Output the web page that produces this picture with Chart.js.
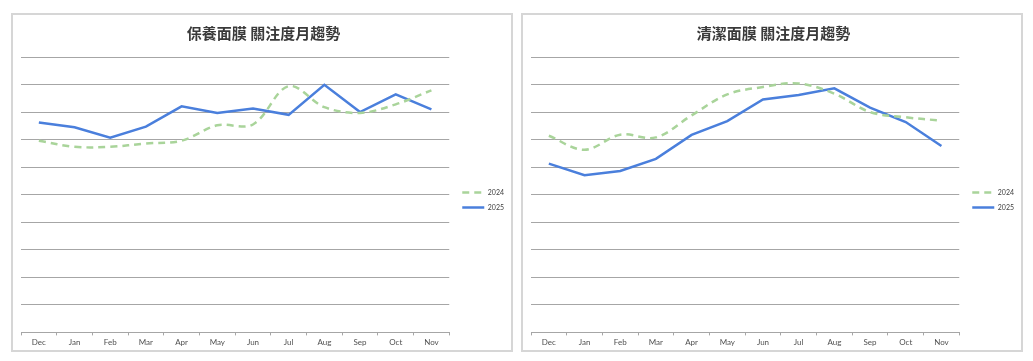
<!DOCTYPE html>
<html>
<head>
<meta charset="utf-8">
<script src="https://cdn.jsdelivr.net/npm/chart.js@4/dist/chart.umd.min.js"></script>
<style>
  html, body { margin: 0; padding: 0; background: #ffffff; width: 1033px; height: 361px; overflow: hidden; }
  .panel { position: absolute; top: 13px; width: 502px; height: 339px; box-sizing: border-box; border: 2px solid #d6d6d6; background: #fff; }
  #p1 { left: 11px; }
  #p2 { left: 521px; }
  canvas { display: block; }
</style>
</head>
<body>
<div class="panel" id="p1"><canvas id="c1" width="498" height="335"></canvas></div>
<div class="panel" id="p2"><canvas id="c2" width="498" height="335"></canvas></div>
<script>
const months = ['Dec','Jan','Feb','Mar','Apr','May','Jun','Jul','Aug','Sep','Oct','Nov'];
const seriesNames = ['2024', '2025'];

const title1 = '保養面膜 關注度月趨勢';
const care2024 = [69.6, 67.4, 67.4, 68.6, 69.6, 75.2, 75.5, 89.4, 81.8, 79.7, 82.8, 87.9];
const care2025 = [76.2, 74.5, 70.7, 74.7, 82.1, 79.7, 81.3, 79.0, 89.9, 80.0, 86.4, 81.0];

const title2 = '清潔面膜 關注度月趨勢';
const clean2024 = [71.4, 66.3, 71.8, 70.8, 78.8, 86.4, 89.1, 90.4, 86.7, 80.0, 78.1, 76.9];
const clean2025 = [61.3, 57.1, 58.6, 63.0, 71.7, 76.7, 84.6, 86.2, 88.6, 81.6, 76.4, 67.7];

const yMin = 0, yMax = 100, yStep = 10;

const smallFont = 'Lato, "Liberation Sans", sans-serif';

function makeChart(id, title, d2024, d2025) {
  new Chart(document.getElementById(id), {
    type: 'line',
    data: {
      labels: months,
      datasets: [
        {
          label: seriesNames[0], data: d2024,
          borderColor: '#a9d49a', backgroundColor: '#a9d49a',
          borderWidth: 2.5, borderDash: [7, 5], tension: 0.35,
          pointRadius: 0, fill: false
        },
        {
          label: seriesNames[1], data: d2025,
          borderColor: '#4a7fdc', backgroundColor: '#4a7fdc',
          borderWidth: 2.5, tension: 0,
          pointRadius: 0, fill: false
        }
      ]
    },
    options: {
      responsive: false,
      animation: false,
      layout: { padding: { left: 0, right: -3, top: 0, bottom: 1 } },
      plugins: {
        title: {
          display: true, text: title, color: '#3a3a3a',
          font: { family: '"Noto Sans CJK TC", "Noto Sans", sans-serif', size: 15, weight: 'bold' },
          padding: { top: 9, bottom: 15 }
        },
        legend: {
          position: 'right',
          fullSize: false,
          title: { display: true, text: ' ', font: { size: 7 }, padding: { top: 0, bottom: 2 } },
          labels: {
            usePointStyle: true, pointStyle: 'line', pointStyleWidth: 22,
            boxHeight: 7, padding: 8, color: '#404040',
            font: { family: smallFont, size: 7 },
            generateLabels(chart) {
              const items = Chart.defaults.plugins.legend.labels.generateLabels(chart);
              items.forEach(it => {
                const ds = chart.data.datasets[it.datasetIndex];
                it.lineDash = ds.borderDash || [];
                it.lineWidth = ds.borderWidth;
                it.strokeStyle = ds.borderColor;
                it.fillStyle = ds.borderColor;
              });
              return items;
            }
          }
        },
        tooltip: { enabled: false }
      },
      scales: {
        x: {
          offset: true,
          grid: { offset: true, drawOnChartArea: false, drawTicks: true, tickLength: 3, color: '#a6a6a6' },
          border: { display: true, color: '#a6a6a6', width: 1 },
          ticks: { color: '#505050', padding: 2, maxRotation: 0, autoSkip: false,
                   font: { family: smallFont, size: 8 } }
        },
        y: {
          min: yMin, max: yMax,
          ticks: { display: false, stepSize: yStep },
          grid: { color: '#a6a6a6', drawTicks: false, lineWidth: 1 },
          border: { display: false },
          afterFit(scale) { scale.width = 8; }
        },
        gap: {
          position: 'right', display: true, min: 0, max: 1,
          ticks: { display: false },
          grid: { display: false, drawTicks: false },
          border: { display: false },
          afterFit(scale) { scale.width = 5; }
        }
      }
    }
  });
}

makeChart('c1', title1, care2024, care2025);
makeChart('c2', title2, clean2024, clean2025);
</script>
</body>
</html>
